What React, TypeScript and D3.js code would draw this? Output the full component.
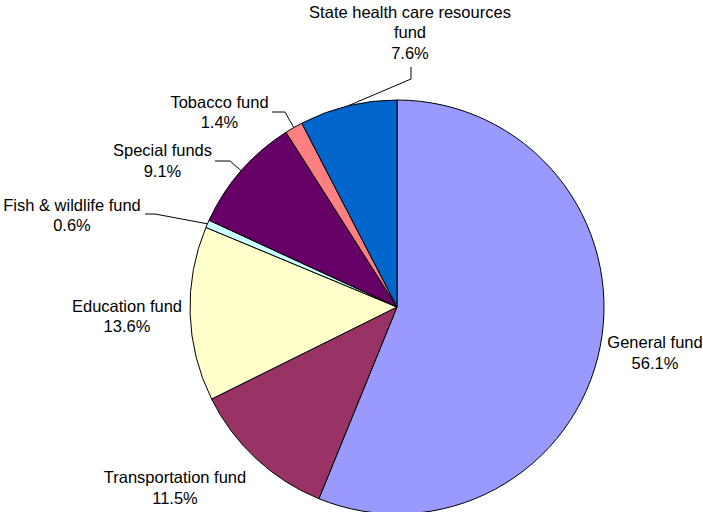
import { useEffect, useRef } from 'react';
import * as d3 from 'd3';

// Fund shares in percent, clockwise from 12 o'clock
const funds = [
  'General fund',
  'Transportation fund',
  'Education fund',
  'Fish & wildlife fund',
  'Special funds',
  'Tobacco fund',
  'State health care resources fund',
];
const shares = [56.1, 11.5, 13.6, 0.6, 9.1, 1.4, 7.6];
const colors = ['#9999FF', '#993366', '#FFFFCC', '#CCFFFF', '#660066', '#FF8080', '#0066CC'];

// label layout: text lines, anchor centre x, first baseline y, optional leader elbow
const labelLayout = [
  { lines: ['General fund', '56.1%'], x: 655, y: 348 },
  { lines: ['Transportation fund', '11.5%'], x: 175, y: 483 },
  { lines: ['Education fund', '13.6%'], x: 127, y: 311.5 },
  { lines: ['Fish & wildlife fund', '0.6%'], x: 72, y: 210.5, leader: [[145, 214], [155, 214]] },
  { lines: ['Special funds', '9.1%'], x: 162.5, y: 156, leader: [[215, 161], [230, 161]] },
  { lines: ['Tobacco fund', '1.4%'], x: 219.5, y: 107.5, leader: [[272, 112], [285, 112]] },
  {
    lines: ['State health care resources', 'fund', '7.6%'],
    x: 410,
    y: 17.5,
    leader: [[411, 67], [411, 79]],
  },
];

const W = 703;
const H = 512;
const cx = 397;
const cy = 307;
const radius = 207;

const App = () => {
  const svgRef = useRef<SVGSVGElement>(null);

  useEffect(() => {
    if (!svgRef.current) return;
    const svg = d3.select(svgRef.current);
    svg.selectAll('*').remove();

    svg.append('rect').attr('width', W).attr('height', H).attr('fill', '#fff');

    const data = funds.map((name, i) => ({ name, value: shares[i], color: colors[i] }));
    const pie = d3
      .pie<{ name: string; value: number; color: string }>()
      .sort(null)
      .value(d => d.value);
    const arcs = pie(data);
    const arc = d3
      .arc<d3.PieArcDatum<{ name: string; value: number; color: string }>>()
      .innerRadius(0)
      .outerRadius(radius);

    const g = svg.append('g').attr('transform', `translate(${cx},${cy})`);

    g.selectAll('path')
      .data(arcs)
      .enter()
      .append('path')
      .attr('d', arc)
      .attr('fill', d => d.data.color)
      .attr('stroke', '#000')
      .attr('stroke-width', 1)
      .attr('stroke-linejoin', 'round');

    // leader lines
    arcs.forEach((a, i) => {
      const lay = labelLayout[i];
      if (!lay.leader) return;
      const mid = (a.startAngle + a.endAngle) / 2;
      const px = cx + radius * Math.sin(mid);
      const py = cy - radius * Math.cos(mid);
      const pts: [number, number][] = [...(lay.leader as [number, number][]), [px, py]];
      svg
        .append('path')
        .attr('d', d3.line()(pts))
        .attr('fill', 'none')
        .attr('stroke', '#000')
        .attr('stroke-width', 1);
    });

    // labels
    labelLayout.forEach(lay => {
      const t = svg
        .append('text')
        .attr('text-anchor', 'middle')
        .attr('font-family', '"Liberation Sans", Arial, sans-serif')
        .attr('font-size', 16.5)
        .attr('fill', '#000');
      lay.lines.forEach((line, j) => {
        t.append('tspan')
          .attr('x', lay.x)
          .attr('y', lay.y + j * 20.5)
          .text(line);
      });
    });
  }, []);

  return (
    <svg
      ref={svgRef}
      width={W}
      height={H}
      style={{ position: 'absolute', left: 0, top: 0, display: 'block' }}
    />
  );
};

export default App;
